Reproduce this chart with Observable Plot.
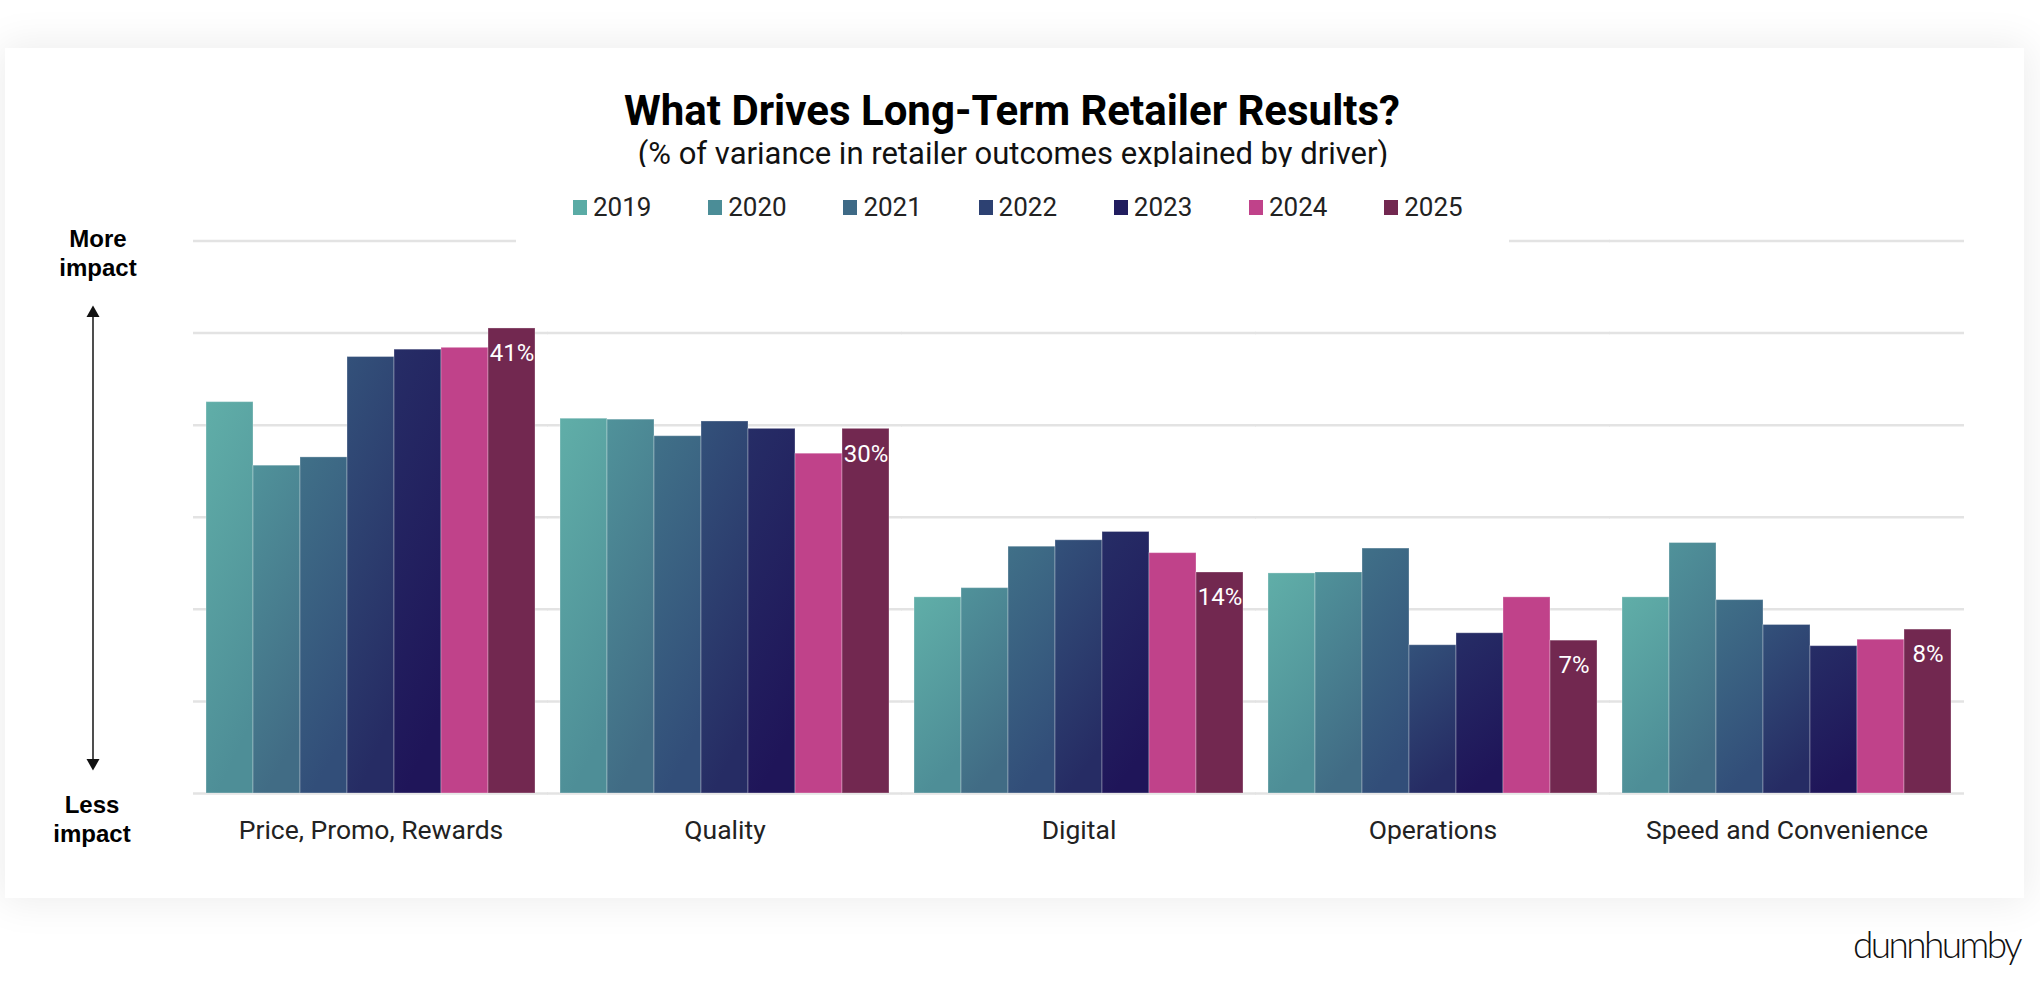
<!DOCTYPE html>
<html>
<head>
<meta charset="utf-8">
<script src="https://cdn.jsdelivr.net/npm/d3@7"></script>
<script src="https://cdn.jsdelivr.net/npm/@observablehq/plot@0.6"></script>
<style>
  html, body { margin: 0; padding: 0; background: #ffffff; }
  body { width: 2040px; height: 992px; position: relative; overflow: hidden; font-family: Roboto, sans-serif; }
  #card { position: absolute; left: 5px; top: 48px; width: 2019px; height: 850px; background: #fff;
          box-shadow: 0 0 38px 4px rgba(0,0,0,0.075); }
  #title { position: absolute; left: 0; width: 2024px; top: 86.5px; text-align: center;
           font: 700 42px/48px Roboto, sans-serif; color: #000; z-index: 2; }
  #subtitle { position: absolute; left: 0; width: 2026px; top: 136px; text-align: center;
              font: 400 31px/36px Roboto, sans-serif; color: #111; z-index: 2; }
  #legend { position: absolute; left: 516px; top: 167px; width: 993px; height: 80px; background: #fff; z-index: 3; }
  .item { position: absolute; top: 0; height: 60px; }
  .sw { position: absolute; left: 0; top: 33px; width: 14px; height: 15px; }
  .lab { position: absolute; left: 20px; top: 25px; font: 400 26px/30px Roboto, sans-serif; color: #222; white-space: nowrap; }
  #chart { position: absolute; left: 0; top: 200px; z-index: 1; }
  .impact { position: absolute; width: 140px; text-align: center; font: 700 24px/28.5px "Liberation Sans", Arial, sans-serif; color: #000; z-index: 2; }
  #deco { position: absolute; left: 0; top: 0; z-index: 2; }
  #logo { position: absolute; left: 1853px; top: 922px; font: 300 37px/44px Lato, sans-serif; letter-spacing: -2.6px;
          color: #111; white-space: nowrap; z-index: 2; }
</style>
</head>
<body>
<div id="card"></div>
<div id="title">What Drives Long-Term Retailer Results?</div>
<div id="subtitle">(% of variance in retailer outcomes explained by driver)</div>
<div id="legend"></div>
<div id="chart"></div>
<div class="impact" style="left:28px; top:225px;">More<br>impact</div>
<div class="impact" style="left:22px; top:791px;">Less<br>impact</div>
<svg id="deco" width="200" height="992">
  <line x1="93" y1="314" x2="93" y2="762" stroke="#222" stroke-width="1.6"></line>
  <polygon points="93,305.5 86.5,317 99.5,317" fill="#111"></polygon>
  <polygon points="93,770.5 86.5,759 99.5,759" fill="#111"></polygon>
</svg>
<div id="logo">dunnhumby</div>
<script>
// ---- data ----
const years = ["2019", "2020", "2021", "2022", "2023", "2024", "2025"];
const categories = ["Price, Promo, Rewards", "Quality", "Digital", "Operations", "Speed and Convenience"];
const pricePromoRewards = [32.5, 25.6, 26.5, 37.4, 38.2, 38.4, 40.5];
const quality           = [30.7, 30.6, 28.8, 30.4, 29.6, 26.9, 29.6];
const digital           = [11.3, 12.3, 16.8, 17.5, 18.4, 16.1, 14.0];
const operations        = [13.9, 14.0, 16.6,  6.1,  7.4, 11.3,  6.6];
const speedConvenience  = [11.3, 17.2, 11.0,  8.3,  6.0,  6.7,  7.8];
const labels2025 = ["41%", "30%", "14%", "7%", "8%"];
const axisFloor = -10, axisTop = 50;

// ---- styles ----
const gradTop    = ["#60aea8", "#50929a", "#407088", "#33517a", "#262d66", "#c0428a", "#722850"];
const gradBottom = ["#4e8e97", "#416c85", "#324e79", "#262c64", "#1f1559", "#c0428a", "#722850"];
const swatch     = ["#5aaba5", "#4b8d97", "#3e6a86", "#2d4172", "#211d5f", "#c0428a", "#722850"];

const series = [pricePromoRewards, quality, digital, operations, speedConvenience];
const rows = [];
categories.forEach((c, ci) => years.forEach((y, yi) => rows.push({category: c, year: y, value: series[ci][yi]})));
const labelRows = categories.map((c, ci) => ({category: c, year: years[years.length - 1], value: series[ci][years.length - 1], label: labels2025[ci]}));
const gridTicks = d3.range(axisFloor, axisTop + 1, 10);

const chart = Plot.plot({
  width: 2040,
  height: 680,
  marginTop: 40.5,
  marginBottom: 87,
  marginLeft: 192,
  marginRight: 75,
  style: {background: "transparent", fontFamily: "Roboto, sans-serif", fontSize: "26.5px", color: "#222", overflow: "visible"},
  fx: {domain: categories, paddingInner: 0.0663, paddingOuter: 0.0332, label: null, axis: "bottom", tickSize: 0, tickPadding: 27},
  x: {domain: years, padding: 0, axis: null},
  y: {domain: [axisFloor, axisTop], axis: null},
  color: {domain: years, range: years.map(y => `url(#grad-${y})`)},
  marks: [
    Plot.ruleY(gridTicks, {stroke: "#e3e3e3", strokeWidth: 2.5, insetLeft: -12, insetRight: -12}),
    Plot.barY(rows, {fx: "category", x: "year", y1: axisFloor, y2: "value", fill: "year",
                     stroke: "#ffffff", strokeOpacity: 0.3, strokeWidth: 1}),
    Plot.text(labelRows, {fx: "category", x: "year", y: "value", text: "label", dy: 25,
                          fill: "white", fontSize: 24})
  ]
});

const defs = d3.select(chart).insert("defs", ":first-child");
years.forEach((y, i) => {
  const g = defs.append("linearGradient").attr("id", `grad-${y}`)
    .attr("x1", 0).attr("y1", 0).attr("x2", 0.25).attr("y2", 1);
  g.append("stop").attr("offset", "0%").attr("stop-color", gradTop[i]);
  g.append("stop").attr("offset", "100%").attr("stop-color", gradBottom[i]);
});
document.getElementById("chart").appendChild(chart);

// ---- legend ----
const legend = d3.select("#legend");
years.forEach((y, i) => {
  const it = legend.append("div").attr("class", "item").style("left", (57 + 135.2 * i) + "px");
  it.append("div").attr("class", "sw").style("background", swatch[i]);
  it.append("div").attr("class", "lab").text(y);
});
</script>
</body>
</html>
